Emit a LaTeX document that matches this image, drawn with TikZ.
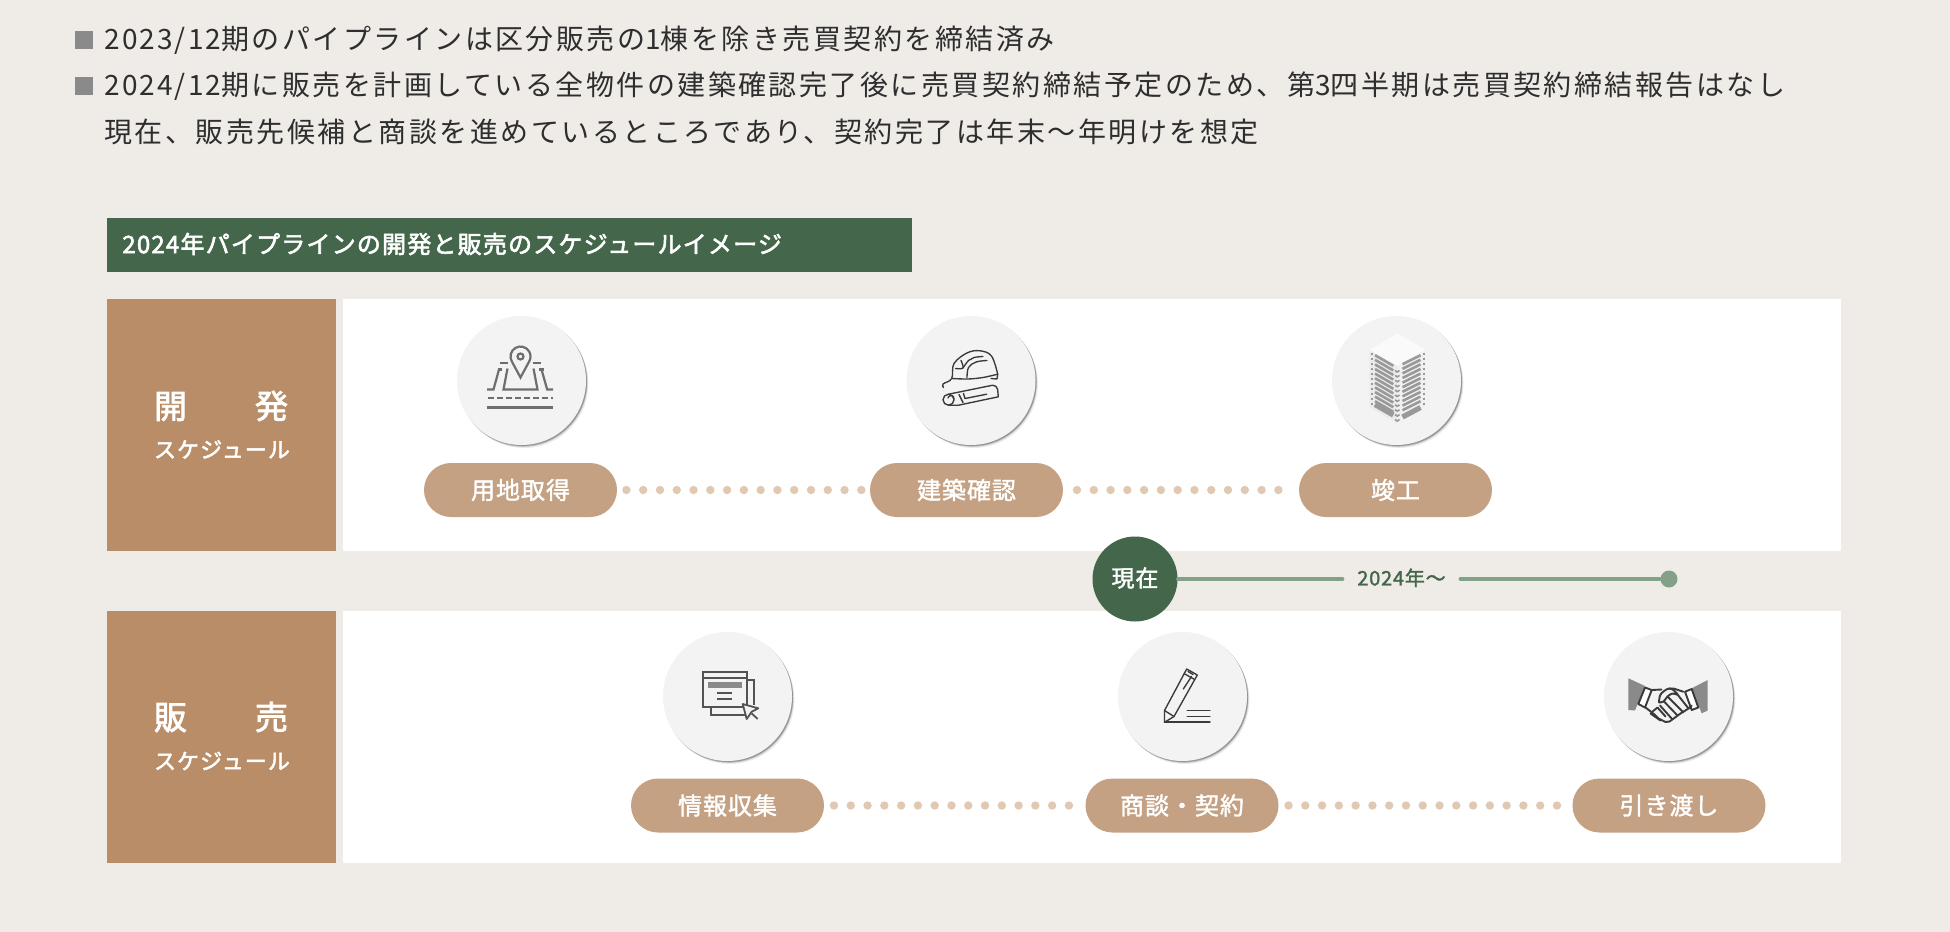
\documentclass[tikz,border=0pt]{standalone}
\usepackage{fontspec}
\setmainfont{Noto Sans CJK JP}
\newfontfamily\bodyf[LetterSpace=8.85]{Noto Sans CJK JP}
\newfontfamily\latf[LetterSpace=7.5]{Noto Sans CJK JP}
\newcommand\lat[1]{{\latf\fontsize{14pt}{14pt}\selectfont #1}}
\newfontfamily\medf[LetterSpace=4,FakeBold=1.6]{Noto Sans CJK JP}
\newfontfamily\headf[LetterSpace=5,FakeBold=2.4]{Noto Sans CJK JP}
\usetikzlibrary{calc}
\definecolor{bgc}{HTML}{EFECE8}
\definecolor{greenc}{HTML}{44664B}
\definecolor{brownc}{HTML}{B88D68}
\definecolor{pillc}{HTML}{C4A183}
\definecolor{dotc}{HTML}{E0C8B2}
\definecolor{linec}{HTML}{83A088}
\definecolor{circc}{HTML}{F3F3F3}
\definecolor{bulc}{HTML}{8A8A8A}
\definecolor{icong}{HTML}{6E6E6E}
\definecolor{icond}{HTML}{3A3A3A}
\newcommand\up[1]{\raisebox{1pt}{#1}}
\tikzset{
  panel/.style={fill=white,draw=none,inner sep=0pt,minimum height=126pt,minimum width=749pt},
  side/.style={fill=brownc,draw=none,inner sep=0pt,minimum height=126pt,minimum width=114.5pt},
  sidetitle/.style={text=white,inner sep=0pt,font=\headf\fontsize{16.5pt}{16.5pt}\selectfont},
  sidesub/.style={text=white,inner sep=0pt,font=\headf\fontsize{11pt}{11pt}\selectfont},
  pill/.style={fill=pillc,draw=none,rounded corners=13.5pt,inner sep=0pt,minimum width=96.5pt,minimum height=27pt,text=white,font=\medf\fontsize{12pt}{12pt}\selectfont},
  iconcirc/.style={circle,fill=circc,draw=none,inner sep=0pt,minimum size=64.5pt},
  dotline/.style={dotc,line width=4.2pt,line cap=round,dash pattern=on 0pt off 8.39pt},
  tline/.style={linec,line width=1.8pt,line cap=round},
  toptext/.style={anchor=west,inner sep=0pt,text=black!82,font=\bodyf\fontsize{14pt}{14pt}\selectfont},
  bullet/.style={fill=bulc,draw=none,inner sep=0pt,minimum size=9pt},
  icgray/.style={icong,line width=1.1pt},
  icdark/.style={icond,line width=.68pt,line join=round,line cap=round},
}
\newcommand\iconbase[3]{%
  \fill[black,opacity=.08] ({#2+2.4},{#3+3}) circle (64.5);
  \fill[black,opacity=.18] ({#2+1.5},{#3+1.8}) circle (64.5);
  \fill[black,opacity=.22] ({#2+1},{#3+1}) circle (64.5);
  \node[iconcirc] (#1) at (#2,#3) {};
}
\begin{document}
\begin{tikzpicture}[x=0.5pt,y=-0.5pt]
\useasboundingbox (0,0) rectangle (1950,932);
\fill[bgc] (0,0) rectangle (1950,932);
% top text
\node[bullet] (b1) at (84,39.5) {};
\node[bullet] (b2) at (84,86) {};
\node[toptext] (t1) at (104,40) {\lat{2023/12}期のパイプラインは区分販売の\lat{1}棟を除き売買契約を締結済み};
\node[toptext] (t2) at (104,86) {\lat{2024/12}期に販売を計画している全物件の建築確認完了後に売買契約締結予定のため、第\lat{3}四半期は売買契約締結報告はなし};
\node[toptext] (t3) at (104,132) {現在、販売先候補と商談を進めているところであり、契約完了は年末～年明けを想定};
% heading
\node[fill=greenc,inner sep=0pt,minimum width=402.5pt,minimum height=27pt] (hbar) at (509.5,245) {};
\node[anchor=west,inner sep=0pt,text=white,font=\headf\fontsize{12pt}{12pt}\selectfont] (htext) at (122,244) {2024年パイプラインの開発と販売のスケジュールイメージ};
% panels
\node[side] (s1) at (221.5,425) {};
\node[panel] (w1) at (1092,425) {};
\node[side] (s2) at (221.5,736.5) {};
\node[panel] (w2) at (1092,736.5) {};
\node[sidetitle] (s1t) at (221,406) {開\hspace{34pt}発};
\node[sidesub] (s1s) at (222,449.5) {スケジュール};
\node[sidetitle] (s2t) at (221,717) {販\hspace{34pt}売};
\node[sidesub] (s2s) at (222,761) {スケジュール};
% pills
\node[pill] (p1) at (520.5,490) {\up{用地取得}};
\node[pill] (p2) at (966.5,490) {\up{建築確認}};
\node[pill] (p3) at (1395.5,490) {\up{竣工}};
\node[pill] (p4) at (727.5,805.5) {\up{情報収集}};
\node[pill] (p5) at (1182,805.5) {\up{商談・契約}};
\node[pill] (p6) at (1669,805.5) {\up{引き渡し}};
\draw[dotline,shorten <=4.5pt,shorten >=3.7pt] (p1.east) -- (p2.west);
\draw[dotline,shorten <=6.8pt,shorten >=9.8pt] (p2.east) -- (p3.west);
\draw[dotline,shorten <=4.8pt,shorten >=7pt] (p4.east) -- (p5.west);
\draw[dotline,shorten <=4.8pt,shorten >=7.2pt] (p5.east) -- (p6.west);
% timeline
\node[circle,fill=greenc,inner sep=0pt,minimum size=42.5pt,text=white,font=\medf\fontsize{11.5pt}{11.5pt}\selectfont] (now) at (1135,579) {\raisebox{2pt}{現在}};
\node[inner sep=0pt,minimum width=58.5pt,text=greenc,font=\medf\fontsize{10pt}{10pt}\selectfont] (yr) at (1401.5,579) {\raisebox{2pt}{2024年～}};
\node[circle,fill=linec,inner sep=0pt,minimum size=8.5pt] (endd) at (1669,579) {};
\draw[tline] (now) -- (yr);
\draw[tline] (yr) -- (endd);
% icon 1
\iconbase{c1}{521.5}{380.5}
\begin{scope}[shift={(521.5,380.5)},icgray]
  \draw (-1,-3) -- (-9.66,-19) arc[start angle=150,end angle=390,radius=10] -- cycle;
  \draw (-1,-24) circle (3);
  \draw (-21.7,-17.7) -- (-14,-17.7);
  \draw (11.7,-17.7) -- (19,-17.7);
  \draw (-14,-12) -- (-18,9) -- (16,9) -- (12,-12);
  \draw (-24,-11) -- (-20,-11);
  \draw (-22.5,-11) -- (-28,9) -- (-34.5,9);
  \draw (17.7,-11) -- (22.3,-11);
  \draw (20,-11) -- (25.7,9) -- (31.7,9);
  \draw[dash pattern=on 2.8pt off 1.7pt,line width=1.3pt] (-33.5,17.3) -- (31,17.3);
  \draw[line width=1.3pt] (-34.3,27) -- (31.7,27);
\end{scope}
% icon 2
\iconbase{c2}{971}{380.5}
\begin{scope}[shift={(971,380.5)},icdark]
  \draw plot[smooth,tension=.6] coordinates {(-27.5,7) (-28,3.5) (-19.3,-2) (-17,-17) (-3.7,-27.7) (9,-29.7) (20.5,-24.5) (26.7,-6.3)};
  \draw plot[smooth,tension=.5] coordinates {(-19.3,-2) (-3,-1.5) (12,-3) (26.7,-6.3)};
  \draw (26.7,-6.3) -- (26,-1.5) -- (20,-2);
  \draw plot[smooth,tension=.6] coordinates {(-4,-3) (-2.5,-13) (5,-18.5) (16,-20)};
  \draw plot[smooth,tension=.6] coordinates {(-15.5,-12) (-8,-12.5) (-10,-20)};
  \draw plot[smooth,tension=.6] coordinates {(-8,-12.5) (-2.5,-20) (3,-23)  (12,-24)};
  % roll
  \draw (-22.5,13.7) -- (21.7,4.7) arc[start angle=-90,end angle=-10,radius=5] -- (27.3,16.3) -- (-12.5,24.7) -- (-22.5,24.7) arc[start angle=90,end angle=270,radius=5.5] ;
  \draw (-22.5,13.7) arc[start angle=-90,end angle=90,radius=5.5];
  \draw (-17,18) arc[start angle=0,end angle=-170,radius=3];
  \draw (-8,22) -- (-12,14);
  \draw (-7.5,13) -- (-6,18) -- (15.7,13.7);
\end{scope}
% icon 3
\iconbase{c3}{1396.5}{380.5}
\begin{scope}[shift={(1396.5,380.5)}]
  \fill[black!2] (-27.2,-30.3) -- (0.8,-47) -- (29.5,-30.3) -- (0.8,-14.7) -- cycle;
  \fill[black!8] (-27.2,-30.3) -- (0.8,-14.7) -- (0.8,43) -- (-27.2,26.3) -- cycle;
  \fill[black!6] (0.8,-14.7) -- (29.5,-30.3) -- (28.2,26.3) -- (0.8,43) -- cycle;
  \foreach \t in {0,...,10} {
    \draw[black!40,line width=1.3pt] (-21.5,{-25.3+\t*4.6}) -- (-3.2,{-14.7+\t*4.6});
    \draw[black!40,line width=1.3pt] (6,{-16.3+\t*4.6}) -- (24,{-25.3+\t*4.6});
    \fill[black!40] (-26,{-27.5+\t*5}) rectangle +(2.2,2.2);
    \fill[black!40] (26,{-27.5+\t*5}) rectangle +(2.2,2.2);
    \draw[black!40,line width=.8pt] (-1.5,{-10+\t*4.9}) -- (0.8,{-8.5+\t*4.9}) -- (3,{-10+\t*4.9});
  }
  \draw[black!40,line width=2.6pt] (-21.5,24) -- (-3.2,34.5);
  \draw[black!40,line width=2.6pt] (6,36.5) -- (24,27);
\end{scope}
% icon 4
\iconbase{c4}{727.5}{696.5}
\begin{scope}[shift={(727.5,696.5)},icong!75!black,line width=.9pt]
  \draw (19.2,-16.5) -- (26.5,-16.5) -- (26.5,8);
  \draw (-16.5,10.8) -- (-16.5,18.5) -- (17,18.5);
  \draw (-24.2,-24.2) rectangle (19.2,10.8);
  \draw (-24.2,-18.8) -- (19.2,-18.8);
  \fill[bulc] (-19.8,-14.2) rectangle (14.2,-8.2);
  \draw (-10.2,-3.2) -- (4.2,-3.2);
  \draw (-10.2,2.2) -- (4.2,2.2);
  \draw[line join=round,fill=circc] (15.2,7.5) -- (30.8,11.8) -- (24.2,15.2) -- (19.2,22.5) -- cycle;
  \draw (24.2,17) -- (30.2,22.5);
\end{scope}
% icon 5
\iconbase{c5}{1182.5}{696.5}
\begin{scope}[shift={(1182.5,696.5)},icdark]
  \draw (-18,25.8) -- (-18,14) -- (4.2,-27.5) -- (14.8,-21.5) -- (-8.5,20) -- cycle;
  \draw (-18,14) -- (-8.5,20);
  \draw (1.5,-23) -- (11.8,-17.2);
  \draw (9,-20) -- (0.8,-7.5);
  \draw (5.5,-25) -- (10.5,-22);
  \draw (4.8,14.2) -- (27.5,14.2);
  \draw (4.8,19.8) -- (27.5,19.8);
  \draw (-18,25.5) -- (27.5,25.5);
\end{scope}
% icon 6
\iconbase{c6}{1668.5}{696.5}
\begin{scope}[shift={(1668.5,696.5)},icdark,line width=.95pt]
  \fill[bulc] (-40.2,-18.2) -- (-23.5,-10.5) -- (-33.5,14) -- (-40.2,13.5) -- cycle;
  \fill[bulc] (39.2,-16.5) -- (23.2,-8.2) -- (33.2,16.8) -- (39.2,14) -- cycle;
  \draw[fill=white] (-23.5,-9) -- (-16.8,-6.5) -- (-23.5,11) -- (-30.2,7.5) -- cycle;
  \draw[fill=white] (16.5,-4.8) -- (23.2,-7.5) -- (29.8,11) -- (23.2,13.5) -- cycle;
  \draw (-16.8,-6.5) -- (-7,-7);
  \draw (14.8,-4.8) -- (5,-8) -- (0,-8);
  \draw plot[smooth,tension=.6] coordinates {(-9.5,6) (-8,-2) (-1,-7.5) (4,-7) (9,-2) (4,-3) (-1,0) (-5,5) (-9.5,6)};
  \draw (9,-2) -- (20,12);
  \draw (-23,11) -- (-14,18) -- (-10,22) -- (-3,25.5) -- (1,25) -- (12,17) -- (20,12) -- (23.2,9);
  \draw (-1,0) -- (15,16);
  \draw (-4.5,5) -- (9,19);
  \draw (-8.5,9) -- (4,23);
  \draw (-16,15) -- (-11,11) -- (-3,20);
  \draw (-18,17) -- (-8,24);
\end{scope}
\end{tikzpicture}
\end{document}
